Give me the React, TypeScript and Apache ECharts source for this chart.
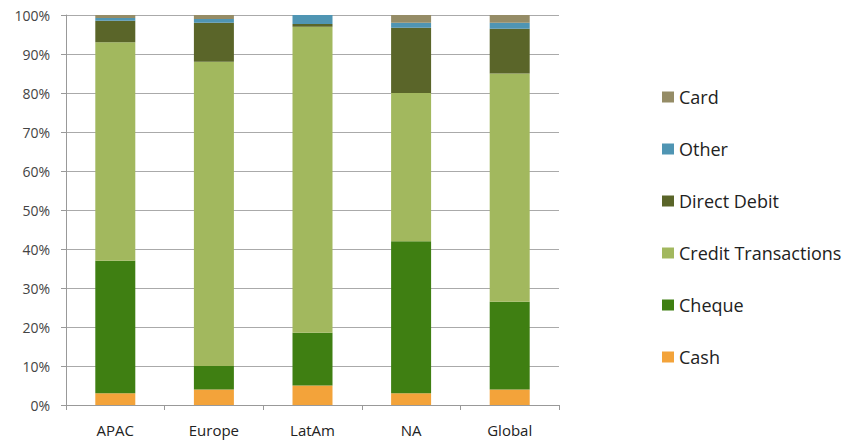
import React, { useEffect, useRef } from "react";
import * as echarts from "echarts";

const categories = ["APAC", "Europe", "LatAm", "NA", "Global"];
const cash = [3, 4, 5, 3, 4];
const cheque = [34, 6, 13.5, 39, 22.5];
const credit = [56, 78, 78.5, 38, 58.5];
const directDebit = [5.5, 10, 0.7, 16.7, 11.5];
const other = [0.7, 1, 2.3, 1.3, 1.5];
const card = [0.8, 1, 0, 2, 2];
const yTicks = [0, 10, 20, 30, 40, 50, 60, 70, 80, 90, 100];

const seriesDefs = [
  { name: "Cash", data: cash, color: "#F3A33A" },
  { name: "Cheque", data: cheque, color: "#3F7F12" },
  { name: "Credit Transactions", data: credit, color: "#A2B85E" },
  { name: "Direct Debit", data: directDebit, color: "#5A6529" },
  { name: "Other", data: other, color: "#4F95B3" },
  { name: "Card", data: card, color: "#958C66" },
];

const FONT = "'Open Sans', 'Noto Sans', sans-serif";

export default function App() {
  const ref = useRef<HTMLDivElement>(null);
  useEffect(() => {
    if (!ref.current) return;
    const chart = echarts.init(ref.current, undefined, { renderer: "svg" });
    chart.setOption({
      animation: false,
      backgroundColor: "#ffffff",
      textStyle: { fontFamily: FONT },
      grid: { left: 66, right: 295, top: 15, bottom: 35 },
      legend: {
        orient: "vertical",
        left: 657,
        top: 81,
        itemWidth: 12,
        itemHeight: 11,
        itemGap: 30,
        icon: "rect",
        data: ["Card", "Other", "Direct Debit", "Credit Transactions", "Cheque", "Cash"],
        textStyle: { fontFamily: FONT, fontSize: 18, color: "#222", lineHeight: 22 },
      },
      xAxis: {
        type: "category",
        data: categories,
        axisLine: { lineStyle: { color: "#999", width: 1 } },
        axisTick: { show: true, length: 5, lineStyle: { color: "#999" } },
        axisLabel: { fontFamily: FONT, fontSize: 15, color: "#222", margin: 17 },
      },
      yAxis: {
        type: "value",
        min: 0,
        max: 100,
        interval: 10,
        axisLine: { show: true, lineStyle: { color: "#999", width: 1 } },
        axisTick: { show: true, length: 5, lineStyle: { color: "#999" } },
        splitLine: { lineStyle: { color: "#aaa", width: 1 } },
        axisLabel: {
          fontFamily: FONT,
          fontSize: 14,
          color: "#444",
          margin: 16,
          formatter: (v: number) => (yTicks.includes(v) ? `${v}%` : ""),
        },
      },
      series: seriesDefs.map((s) => ({
        name: s.name,
        type: "bar",
        stack: "total",
        barWidth: 40,
        data: s.data,
        itemStyle: { color: s.color },
      })),
    });
    return () => chart.dispose();
  }, []);
  return <div ref={ref} style={{ width: 854, height: 440, position: "absolute", left: 0, top: 0 }} />;
}
